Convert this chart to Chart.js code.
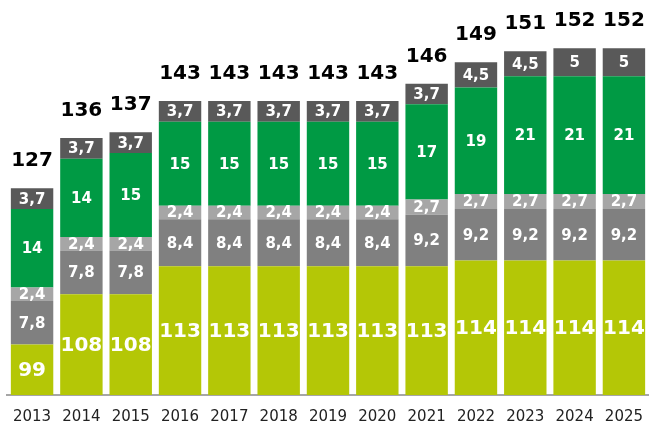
<!DOCTYPE html>
<html>
<head>
<meta charset="utf-8">
<script src="https://cdn.jsdelivr.net/npm/chart.js@4.4.0/dist/chart.umd.min.js"></script>
<style>
  html, body { margin: 0; padding: 0; background: #fff; }
  #wrap { width: 656px; height: 425px; }
</style>
</head>
<body>
<div id="wrap"><canvas id="chart"></canvas></div>
<script>
const years = ['2013', '2014', '2015', '2016', '2017', '2018', '2019', '2020', '2021', '2022', '2023', '2024', '2025'];
const baseVals  = [99, 108, 108, 113, 113, 113, 113, 113, 113, 114, 114, 114, 114];
const greyVals  = [7.8, 7.8, 7.8, 8.4, 8.4, 8.4, 8.4, 8.4, 9.2, 9.2, 9.2, 9.2, 9.2];
const lightVals = [2.4, 2.4, 2.4, 2.4, 2.4, 2.4, 2.4, 2.4, 2.7, 2.7, 2.7, 2.7, 2.7];
const greenVals = [14, 14, 15, 15, 15, 15, 15, 15, 17, 19, 21, 21, 21];
const darkVals  = [3.7, 3.7, 3.7, 3.7, 3.7, 3.7, 3.7, 3.7, 3.7, 4.5, 4.5, 5, 5];
const totals    = [127, 136, 137, 143, 143, 143, 143, 143, 146, 149, 151, 152, 152];

const FONT = '"DejaVu Sans", Verdana, sans-serif';
const fmt = v => String(v).replace('.', ',');

const mk = (data, color, size) => ({
    data,
    backgroundColor: color,
    borderWidth: 0,
    labelSize: size,
    barPercentage: 0.86,
    categoryPercentage: 1
});

// draws the value inside each segment and the total above each bar
const labelPlugin = {
    id: 'labels',
    afterDatasetsDraw(chart) {
        const ctx = chart.ctx;
        const bottom = chart.chartArea.bottom;
        ctx.save();
        ctx.textAlign = 'center';
        chart.data.datasets.forEach((ds, di) => {
            const meta = chart.getDatasetMeta(di);
            ctx.font = `bold ${ds.labelSize}px ${FONT}`;
            ctx.fillStyle = '#fff';
            ctx.textBaseline = 'middle';
            meta.data.forEach((el, i) => {
                const base = Math.min(el.base, bottom); // first stack starts below the axis min
                ctx.fillText(fmt(ds.data[i]), el.x, (el.y + base) / 2 + 1);
            });
        });
        const top = chart.getDatasetMeta(chart.data.datasets.length - 1);
        ctx.font = `bold 20px ${FONT}`;
        ctx.fillStyle = '#000';
        ctx.textBaseline = 'alphabetic';
        top.data.forEach((el, i) => {
            ctx.fillText(String(totals[i]), el.x, el.y - 22);
        });
        ctx.restore();
    }
};

new Chart(document.getElementById('chart'), {
    type: 'bar',
    data: {
        labels: years,
        datasets: [
            mk(baseVals, '#b4c706', 20),
            mk(greyVals, '#808080', 15),
            mk(lightVals, '#a6a6a6', 15),
            mk(greenVals, '#009a44', 15),
            mk(darkVals, '#595959', 15)
        ]
    },
    options: {
        responsive: true,
        maintainAspectRatio: false,
        animation: false,
        layout: { padding: { top: 3, left: 7, right: 0, bottom: 0 } },
        plugins: { legend: { display: false }, tooltip: { enabled: false } },
        scales: {
            x: {
                stacked: true,
                grid: { display: false, drawTicks: false, tickLength: 0 },
                border: { display: true, color: '#a6a6a6', width: 2 },
                ticks: { color: '#222', font: { family: FONT, size: 15 }, padding: 13, maxRotation: 0 },
                afterFit: scale => { scale.height = 30; }
            },
            y: {
                stacked: true,
                display: false,
                min: 90,
                max: 160
            }
        }
    },
    plugins: [labelPlugin]
});
</script>
</body>
</html>
